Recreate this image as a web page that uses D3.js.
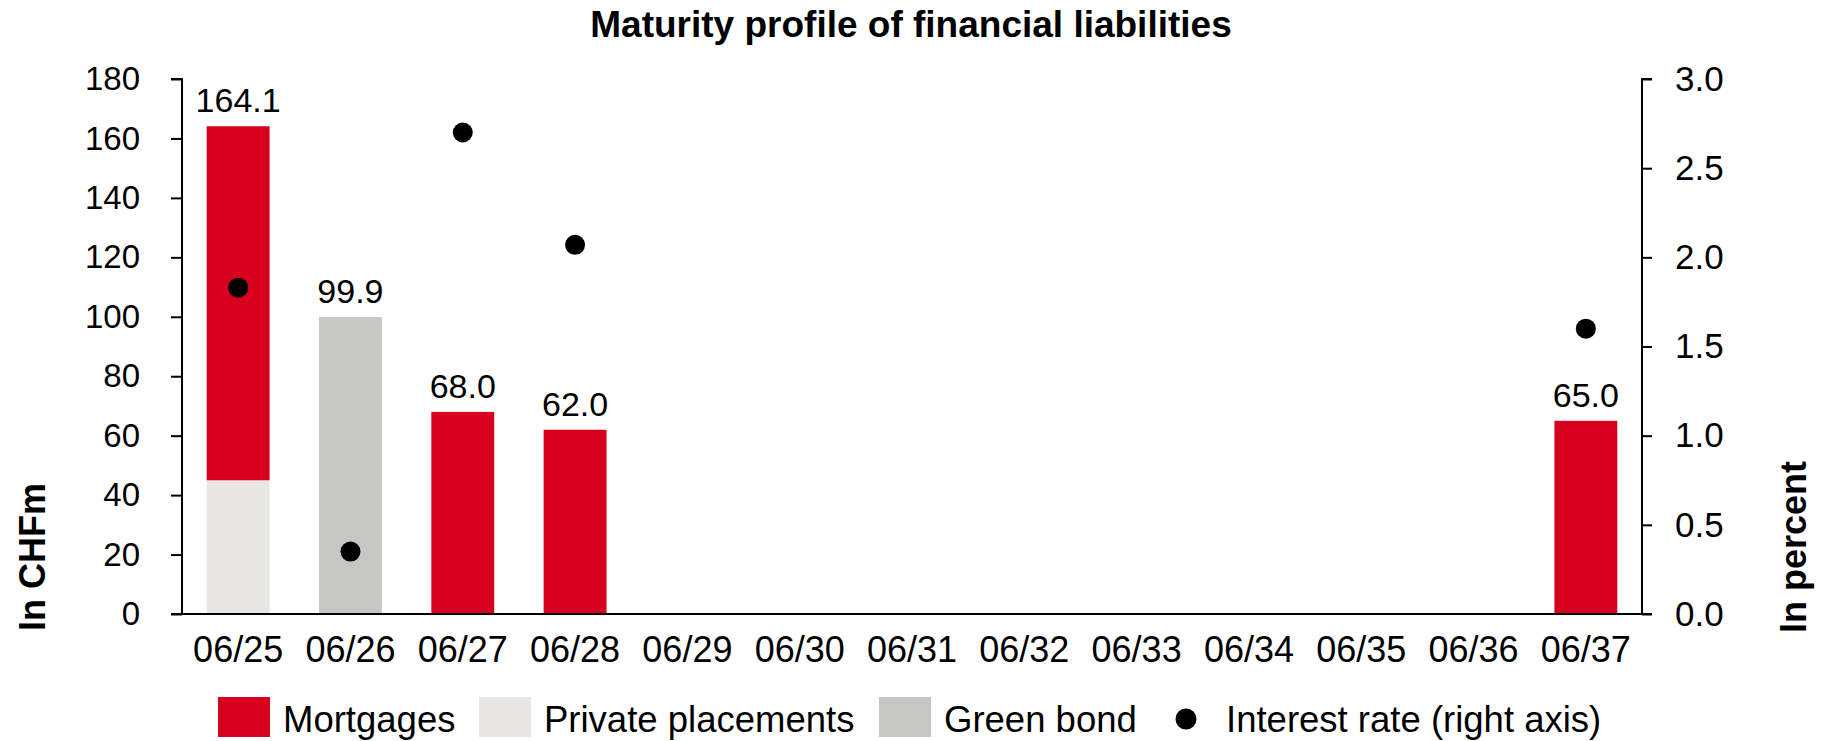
<!DOCTYPE html>
<html>
<head>
<meta charset="utf-8">
<script src="https://cdn.jsdelivr.net/npm/d3@7"></script>
<style>
  html, body { margin: 0; padding: 0; background: #fff; }
  svg { display: block; font-family: "Liberation Sans", Arial, sans-serif; }
</style>
</head>
<body>
<svg id="chart" width="1839" height="741"></svg>
<script>
// Maturity buckets (month/year)
const categories = ["06/25", "06/26", "06/27", "06/28", "06/29", "06/30", "06/31",
                    "06/32", "06/33", "06/34", "06/35", "06/36", "06/37"];
// CHF millions maturing per bucket
const privatePlacements = [45.0, 0, 0, 0, 0, 0, 0, 0, 0, 0, 0, 0, 0];
const mortgages         = [119.1, 0, 68.0, 62.0, 0, 0, 0, 0, 0, 0, 0, 0, 65.0];
const greenBond         = [0, 99.9, 0, 0, 0, 0, 0, 0, 0, 0, 0, 0, 0];
// Average interest rate in percent (right axis)
const interestRate      = [1.83, 0.35, 2.70, 2.07, null, null, null, null, null, null, null, null, 1.60];
// Axis ticks
const leftTicks  = [0, 20, 40, 60, 80, 100, 120, 140, 160, 180];
const rightTicks = [0, 0.5, 1.0, 1.5, 2.0, 2.5, 3.0];

const colors = {
  mortgages: "#d7001e",
  privatePlacements: "#e8e6e2",
  greenBond: "#c6c6c2",
  rate: "#000000"
};

const svg = d3.select("#chart");
const margin = { left: 182, right: 1642, top: 79, bottom: 614 };

const x = d3.scaleBand().domain(categories).range([margin.left, margin.right])
  .paddingInner(0.44).paddingOuter(0.22);
const yL = d3.scaleLinear().domain([0, 180]).range([margin.bottom, margin.top]);
const yR = d3.scaleLinear().domain([0, 3]).range([margin.bottom, margin.top]);

// Stacked series: private placements at the base, then mortgages, then green bond
const rows = categories.map((c, i) => ({
  cat: c,
  privatePlacements: privatePlacements[i],
  mortgages: mortgages[i],
  greenBond: greenBond[i]
}));
const keys = ["privatePlacements", "mortgages", "greenBond"];
const stacked = d3.stack().keys(keys)(rows);

const barsG = svg.append("g");
stacked.forEach(layer => {
  barsG.selectAll(null)
    .data(layer.filter(d => d[1] - d[0] > 0))
    .join("rect")
    .attr("x", d => x(d.data.cat))
    .attr("width", x.bandwidth())
    .attr("y", d => yL(d[1]))
    .attr("height", d => yL(d[0]) - yL(d[1]))
    .attr("fill", colors[layer.key]);
});

// Total labels above each bar
const totals = rows.map(r => ({ cat: r.cat, total: r.privatePlacements + r.mortgages + r.greenBond }));
svg.append("g").selectAll("text")
  .data(totals.filter(d => d.total > 0))
  .join("text")
  .attr("x", d => x(d.cat) + x.bandwidth() / 2)
  .attr("y", d => yL(d.total) - 14)
  .attr("text-anchor", "middle")
  .attr("font-size", 34)
  .attr("fill", "#000")
  .text(d => d3.format(".1f")(d.total));

// Interest rate dots
svg.append("g").selectAll("circle")
  .data(categories.map((c, i) => ({ cat: c, v: interestRate[i] })).filter(d => d.v != null))
  .join("circle")
  .attr("cx", d => x(d.cat) + x.bandwidth() / 2)
  .attr("cy", d => yR(d.v))
  .attr("r", 10)
  .attr("fill", colors.rate);

// Left axis
const axL = svg.append("g").attr("transform", `translate(${margin.left},0)`)
  .call(d3.axisLeft(yL).tickValues(leftTicks).tickSize(11).tickPadding(31).tickFormat(d3.format("d")));
axL.select(".domain").attr("stroke", "#000").attr("stroke-width", 2).attr("d", `M-11,${yL(180)}H0V${yL(0)}H-11`);
axL.selectAll(".tick line").attr("stroke", "#000").attr("stroke-width", 2);
axL.selectAll(".tick text").attr("font-size", 33).attr("fill", "#000")
  .attr("font-family", "'Liberation Sans', Arial, sans-serif");

// Right axis
const axR = svg.append("g").attr("transform", `translate(${margin.right},0)`)
  .call(d3.axisRight(yR).tickValues(rightTicks).tickSize(10).tickPadding(23).tickFormat(d3.format(".1f")));
axR.select(".domain").attr("stroke", "#000").attr("stroke-width", 2).attr("d", `M10,${yR(3)}H0V${yR(0)}H10`);
axR.selectAll(".tick line").attr("stroke", "#000").attr("stroke-width", 2);
axR.selectAll(".tick text").attr("font-size", 35).attr("fill", "#000")
  .attr("font-family", "'Liberation Sans', Arial, sans-serif");

// Bottom axis (category labels, no tick marks)
const axB = svg.append("g").attr("transform", `translate(0,${margin.bottom})`)
  .call(d3.axisBottom(x).tickSize(0).tickPadding(22));
axB.select(".domain").attr("stroke", "#000").attr("stroke-width", 2)
  .attr("d", `M${margin.left - 11},0H${margin.right + 10}`);
axB.selectAll(".tick text").attr("font-size", 36).attr("fill", "#000")
  .attr("font-family", "'Liberation Sans', Arial, sans-serif");

// Title
svg.append("text")
  .attr("x", 911).attr("y", 37)
  .attr("text-anchor", "middle")
  .attr("font-size", 37).attr("font-weight", "bold")
  .text("Maturity profile of financial liabilities");

// Axis titles
svg.append("text")
  .attr("transform", "translate(45,557) rotate(-90)")
  .attr("text-anchor", "middle")
  .attr("font-size", 36).attr("font-weight", "bold")
  .text("In CHFm");
svg.append("text")
  .attr("transform", "translate(1806,547) rotate(-90)")
  .attr("text-anchor", "middle")
  .attr("font-size", 36).attr("font-weight", "bold")
  .text("In percent");

// Legend
const legendItems = [
  { label: "Mortgages", type: "rect", color: colors.mortgages, x: 218 },
  { label: "Private placements", type: "rect", color: colors.privatePlacements, x: 479 },
  { label: "Green bond", type: "rect", color: colors.greenBond, x: 879 },
  { label: "Interest rate (right axis)", type: "dot", color: colors.rate, x: 1176 }
];
const lg = svg.append("g");
legendItems.forEach(it => {
  if (it.type === "rect") {
    lg.append("rect").attr("x", it.x).attr("y", 697).attr("width", 52).attr("height", 40).attr("fill", it.color);
    lg.append("text").attr("x", it.x + 65).attr("y", 732).attr("font-size", 36.5).text(it.label);
  } else {
    lg.append("circle").attr("cx", it.x + 10).attr("cy", 719).attr("r", 10.5).attr("fill", it.color);
    lg.append("text").attr("x", it.x + 50).attr("y", 732).attr("font-size", 36.5).text(it.label);
  }
});
</script>
</body>
</html>
